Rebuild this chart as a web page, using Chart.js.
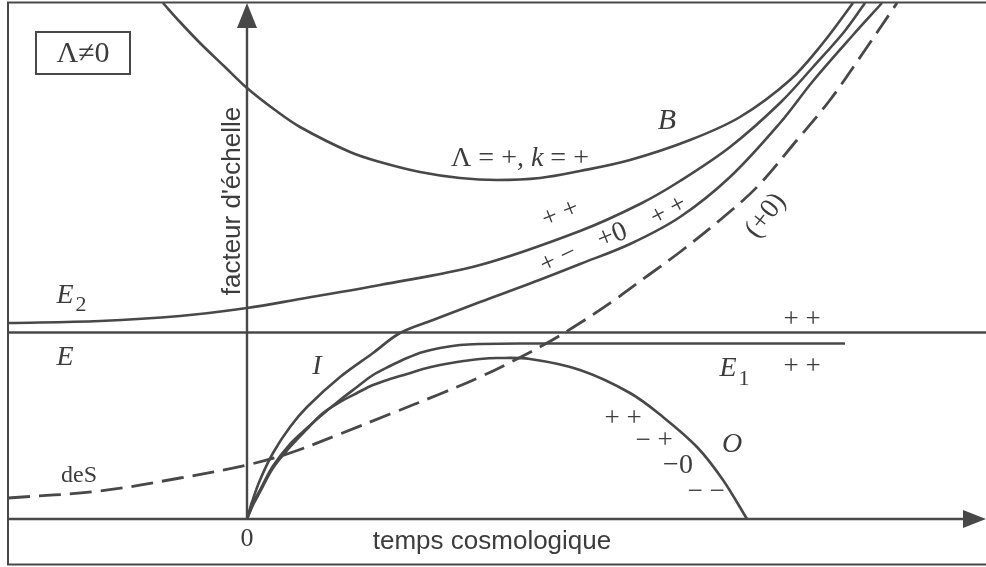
<!DOCTYPE html>
<html lang="fr">
<head>
<meta charset="UTF-8">
<title>Facteur d'échelle, Λ≠0</title>
<script src="https://cdn.jsdelivr.net/npm/chart.js"></script>
<style>
    html, body { margin: 0; padding: 0; background: #ffffff; }
    .chart-wrapper { position: relative; width: 986px; height: 567px; }
</style>
</head>
<body>
<div class="chart-wrapper"><canvas id="chart"></canvas></div>
<script>
// temps cosmologique (t) et facteur d'échelle (a)
const tB  = [-0.84, -0.67, -0.47, -0.22, 0.00, 0.28, 0.53, 1.03, 1.33, 1.73, 2.13, 2.50, 2.93, 3.33, 3.83, 4.43, 4.93, 5.43, 5.76, 6.06];
const aB  = [ 5.16,  4.97,  4.76,  4.52, 4.31, 4.09, 3.92, 3.67, 3.57, 3.47, 3.41, 3.39, 3.41, 3.48, 3.59, 3.79, 4.02, 4.39, 4.76, 5.16];

const tE2 = [-2.39, -1.47, -0.67, 0.00, 0.53, 1.33, 2.33, 3.33, 3.93, 4.33, 4.83, 5.33, 5.66, 5.97, 6.18];
const aE2 = [ 1.96,  1.98,  2.03, 2.11, 2.20, 2.34, 2.54, 2.88, 3.15, 3.38, 3.72, 4.16, 4.52, 4.87, 5.16];

const tI  = [0, 0.05, 0.13, 0.26, 0.43, 0.60, 0.93, 1.26, 1.53, 1.86, 2.33, 2.83, 3.33, 3.83, 4.33, 4.83, 5.33, 5.66, 6.06, 6.35];
const aI  = [0, 0.17, 0.39, 0.66, 0.92, 1.12, 1.42, 1.66, 1.86, 1.99, 2.17, 2.355, 2.55, 2.75, 3.02, 3.42, 3.96, 4.38, 4.84, 5.16];

const tE1 = [0, 0.06, 0.13, 0.26, 0.43, 0.60, 0.76, 0.93, 1.10, 1.26, 1.43, 1.60, 1.76, 1.93, 2.13, 2.33, 2.73, 5.98];
const aE1 = [0, 0.16, 0.29, 0.53, 0.75, 0.91, 1.05, 1.19, 1.32, 1.44, 1.53, 1.61, 1.67, 1.71, 1.74, 1.75, 1.755, 1.755];

const tO  = [0, 0.06, 0.13, 0.26, 0.43, 0.60, 0.76, 0.93, 1.10, 1.26, 1.43, 1.60, 1.76, 1.93, 2.10, 2.33, 2.50, 2.83, 3.33, 3.83, 4.16, 4.50, 4.76, 5.00];
const aO  = [0, 0.14, 0.27, 0.51, 0.72, 0.90, 1.06, 1.17, 1.26, 1.34, 1.40, 1.45, 1.50, 1.54, 1.57, 1.60, 1.61, 1.60, 1.49, 1.26, 1.02, 0.72, 0.39, 0.00];

const tDeS = [-2.39, -1.47, -0.67, 0.00, 0.43, 0.93, 1.43, 1.93, 2.33, 2.66, 3.00, 3.33, 3.66, 4.03, 4.33, 4.73, 5.10, 5.50, 5.83, 6.16, 6.50];
const aDeS = [ 0.21,  0.28,  0.41, 0.54, 0.66, 0.85, 1.05, 1.25, 1.42, 1.58, 1.76, 1.96, 2.18, 2.45, 2.67, 2.99, 3.32, 3.79, 4.19, 4.66, 5.16];

// statique E
const tE = [-2.39, 7.39];
const aE = [1.865, 1.865];

const ink = '#484848';

function pts(ts, as) {
    return ts.map((t, i) => ({ x: t, y: as[i] }));
}

function curve(label, ts, as, dashed) {
    return {
        label: label,
        data: pts(ts, as),
        showLine: true,
        borderColor: ink,
        borderWidth: dashed ? 2.8 : 2.6,
        borderDash: dashed ? [22, 9] : [],
        pointRadius: 0,
        fill: false,
        tension: 0.35
    };
}

const serif = '"Liberation Serif"';
// texts placed in data coordinates
const labels = [
    { parts: [['B', 'italic 30px ' + serif]], t: 4.20, a: 3.99 },
    { parts: [['Λ = +, ', '28px ' + serif], ['k', 'italic 28px ' + serif], [' = +', '28px ' + serif]], t: 2.73, a: 3.61 },
    { parts: [['+ +', '27px ' + serif]], t: 3.13, a: 3.06, rot: -22 },
    { parts: [['+ −', '27px ' + serif]], t: 3.11, a: 2.61, rot: -25 },
    { parts: [['+0', '28px ' + serif]], t: 3.65, a: 2.84, rot: -22 },
    { parts: [['+ +', '27px ' + serif]], t: 4.21, a: 3.09, rot: -28 },
    { parts: [['(+0)', '28px ' + serif]], t: 5.18, a: 3.04, rot: -52 },
    { parts: [['E', 'italic 28px ' + serif]], t: -1.82, a: 2.24 },
    { parts: [['2', '22px ' + serif]], t: -1.66, a: 2.15 },
    { parts: [['E', 'italic 28px ' + serif]], t: -1.82, a: 1.62 },
    { parts: [['I', 'italic 28px ' + serif]], t: 0.70, a: 1.53 },
    { parts: [['deS', '24px ' + serif]], t: -1.68, a: 0.44 },
    { parts: [['0', '26px ' + serif]], t: 0.00, a: -0.19 },
    { parts: [['temps cosmologique', '26px "Liberation Sans"']], t: 2.45, a: -0.22 },
    { parts: [["facteur d'échelle", '26px "Liberation Sans"']], t: -0.15, a: 3.18, rot: -90 },
    { parts: [['+ +', '27px ' + serif]], t: 5.55, a: 2.00 },
    { parts: [['E', 'italic 28px ' + serif]], t: 4.81, a: 1.51 },
    { parts: [['1', '22px ' + serif]], t: 4.97, a: 1.41 },
    { parts: [['+ +', '27px ' + serif]], t: 5.55, a: 1.53 },
    { parts: [['+ +', '27px ' + serif]], t: 3.76, a: 1.01 },
    { parts: [['− +', '27px ' + serif]], t: 4.07, a: 0.79 },
    { parts: [['O', 'italic 28px ' + serif]], t: 4.85, a: 0.75 },
    { parts: [['−0', '28px ' + serif]], t: 4.31, a: 0.54 },
    { parts: [['− −', '27px ' + serif]], t: 4.59, a: 0.28 },
    { parts: [['Λ≠0', '30px ' + serif]], t: -1.64, a: 4.66 }
];

const figurePlugin = {
    id: 'figure',
    afterDatasetsDraw(chart) {
        const ctx = chart.ctx;
        const xs = chart.scales.x, ys = chart.scales.y;
        const px = v => xs.getPixelForValue(v);
        const py = v => ys.getPixelForValue(v);
        ctx.save();
        ctx.strokeStyle = ink;
        ctx.fillStyle = ink;
        ctx.lineWidth = 2;

        // outer frame
        ctx.beginPath();
        ctx.moveTo(chart.width + 5, py(5.165));
        ctx.lineTo(px(-2.39), py(5.165));
        ctx.lineTo(px(-2.39), py(-0.455));
        ctx.lineTo(chart.width + 5, py(-0.455));
        ctx.stroke();

        // box around Λ≠0
        ctx.strokeRect(px(-2.11), py(4.87), px(-1.17) - px(-2.11), py(4.45) - py(4.87));

        // axes
        ctx.lineWidth = 2.4;
        ctx.beginPath();
        ctx.moveTo(px(-2.39), py(0));
        ctx.lineTo(px(7.25), py(0));
        ctx.moveTo(px(0), py(0));
        ctx.lineTo(px(0), py(4.95));
        ctx.stroke();
        // arrow heads
        ctx.beginPath();
        ctx.moveTo(px(7.39), py(0));
        ctx.lineTo(px(7.16), py(0) - 9);
        ctx.lineTo(px(7.16), py(0) + 9);
        ctx.closePath();
        ctx.fill();
        ctx.beginPath();
        ctx.moveTo(px(0), py(5.16));
        ctx.lineTo(px(0) - 10, py(4.91));
        ctx.lineTo(px(0) + 10, py(4.91));
        ctx.closePath();
        ctx.fill();

        // texts
        ctx.fillStyle = '#3c3c3c';
        ctx.textBaseline = 'middle';
        ctx.textAlign = 'left';
        labels.forEach(l => {
            let w = 0;
            l.parts.forEach(p => { ctx.font = p[1]; w += ctx.measureText(p[0]).width; });
            ctx.save();
            ctx.translate(px(l.t), py(l.a));
            if (l.rot) ctx.rotate(l.rot * Math.PI / 180);
            let x = -w / 2;
            l.parts.forEach(p => {
                ctx.font = p[1];
                ctx.fillText(p[0], x, 1);
                x += ctx.measureText(p[0]).width;
            });
            ctx.restore();
        });
        ctx.restore();
    }
};

new Chart(document.getElementById('chart').getContext('2d'), {
    type: 'scatter',
    data: {
        datasets: [
            curve('B', tB, aB, false),
            curve('E2', tE2, aE2, false),
            curve('I', tI, aI, false),
            curve('E1', tE1, aE1, false),
            curve('O', tO, aO, false),
            curve('deS', tDeS, aDeS, true),
            curve('E', tE, aE, false)
        ]
    },
    options: {
        responsive: true,
        maintainAspectRatio: false,
        animation: false,
        layout: { padding: 0 },
        plugins: {
            legend: { display: false },
            tooltip: { enabled: false }
        },
        scales: {
            x: { type: 'linear', min: -2.47, max: 7.39, display: false },
            y: { type: 'linear', min: -0.48, max: 5.19, display: false }
        }
    },
    plugins: [figurePlugin]
});
</script>
</body>
</html>
